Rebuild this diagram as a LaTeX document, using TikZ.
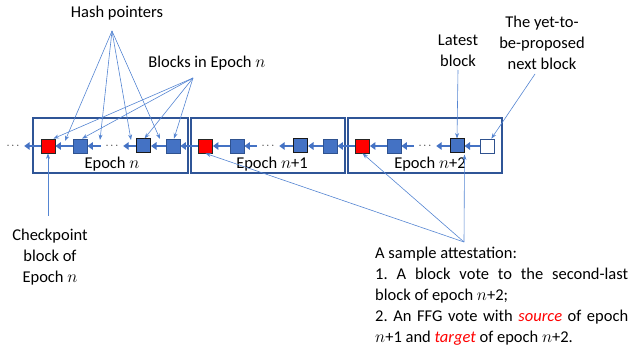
\documentclass[tikz,border=0pt]{standalone}
\usepackage{fontspec}
\setmainfont{Carlito}
\usetikzlibrary{arrows.meta,calc}
\definecolor{chainblue}{HTML}{4472C4}
\definecolor{blkborder}{HTML}{2F528F}
\definecolor{boxblue}{HTML}{2F5597}
\definecolor{annblue}{HTML}{5585D2}
\newcommand{\fs}{\fontsize{16.5}{21}\selectfont}
\frenchspacing
\begin{document}
\begin{tikzpicture}[x=1pt,y=-1pt,
  blk/.style={minimum size=14pt,inner sep=0pt,fill=chainblue,draw=blkborder,line width=0.8pt},
  redblk/.style={blk,fill=red,draw=black!85},
  darkblk/.style={blk,draw=black!90,line width=1pt},
  whiteblk/.style={blk,fill=white,draw=blkborder},
  dotsnode/.style={minimum width=22pt,minimum height=10pt,inner sep=0pt,font=\fontsize{11}{11}\selectfont},
  chainarr/.style={draw=chainblue,line width=2.8pt,-{Triangle[length=5.5pt,width=7.5pt]}},
  epochbox/.style={draw=boxblue,line width=1.2pt},
  ann/.style={draw=annblue,line width=0.6pt,-{Stealth[length=5.5pt,width=4pt]}},
  lbl/.style={font=\fs,align=center,inner sep=0pt}]
\useasboundingbox (0,0) rectangle (629,347);
% epoch boxes
\draw[epochbox] (33,118) rectangle (188,173);
\draw[epochbox] (191,118) rectangle (345,173);
\draw[epochbox] (348,118) rectangle (502,173);
\node[lbl] (ep1) at (112,164) {Epoch $n$};
\node[lbl] (ep2) at (272,164) {Epoch $n$+1};
\node[lbl] (ep3) at (430,164) {Epoch $n$+2};
% blocks
\node[dotsnode] (d0) at (13,146) {$\cdots$};
\node[redblk] (R1) at (48,146) {};
\node[blk] (B1) at (80,146) {};
\node[dotsnode] (d1) at (112,146) {$\cdots$};
\node[darkblk] (K1) at (143.5,146) {};
\node[blk] (B2) at (173,146) {};
\node[redblk] (R2) at (205.5,146) {};
\node[blk] (B3) at (237,146) {};
\node[dotsnode] (d2) at (268,146) {$\cdots$};
\node[darkblk] (K2) at (300.5,146) {};
\node[blk] (B4) at (330,146) {};
\node[redblk] (R3) at (362.5,146) {};
\node[blk] (B5) at (394,146) {};
\node[dotsnode] (d3) at (425,146) {$\cdots$};
\node[darkblk] (K3) at (457,146) {};
\node[whiteblk] (W) at (487,146) {};
% chain arrows
\draw[chainarr] (R1.west) -- (d0.east);
\draw[chainarr] (B1.west) -- (R1.east);
\draw[chainarr] (d1.west) -- (B1.east);
\draw[chainarr] (K1.west) -- (d1.east);
\draw[chainarr] (B2.west) -- (K1.east);
\draw[chainarr] (R2.west) -- (B2.east);
\draw[chainarr] (B3.west) -- (R2.east);
\draw[chainarr] (d2.west) -- (B3.east);
\draw[chainarr] (K2.west) -- (d2.east);
\draw[chainarr] (B4.west) -- (K2.east);
\draw[chainarr] (R3.west) -- (B4.east);
\draw[chainarr] (B5.west) -- (R3.east);
\draw[chainarr] (d3.west) -- (B5.east);
\draw[chainarr] (K3.west) -- (d3.east);
\draw[chainarr] (W.west) -- (K3.east);
% labels
\node[lbl] (hash) at (117,13) {Hash pointers};
\node[lbl] (inep) at (207,63) {Blocks in Epoch $n$};
\node[lbl] (latest) at (458,50.5) {Latest\\block};
\node[lbl] (next) at (542,43) {The yet-to-\\be-proposed\\next block};
\node[lbl] (chk) at (50,257) {Checkpoint\\block of\\Epoch $n$};
\node[font=\fs,align=left,inner sep=0pt,anchor=north west] (att) at (375,246.5)
 {A sample attestation:\\
  \makebox[253pt][s]{1. A block vote to the second-last}\\
  block of epoch $n$+2;\\
  \makebox[253pt][s]{2. An FFG vote with \textcolor{red}{\textit{source}} of epoch}\\
  $n$+1 and \textcolor{red}{\textit{target}} of epoch $n$+2.};
% annotation points
\coordinate (hs) at (112,31);
\coordinate (h1) at (65,141);
\coordinate (h2) at (100,140);
\coordinate (h3) at (131,140);
\coordinate (h4) at (160,139);
\coordinate (bs) at (193,78);
\coordinate (ls) at (458,70);
\coordinate (ns) at (535,74);
\coordinate (cs) at (48,216);
\coordinate (as) at (464,242);
% hash pointer lines
\draw[ann] (hs) -- (h1);
\draw[ann] (hs) -- (h2);
\draw[ann] (hs) -- (h3);
\draw[ann] (hs) -- (h4);
% blocks in epoch lines
\draw[ann] (bs) -- ($(R1.north east)+(-2,0)$);
\draw[ann] (bs) -- ($(B1.north)+(2,0)$);
\draw[ann] (bs) -- ($(K1.north)+(1,0)$);
\draw[ann] (bs) -- ($(B2.north)+(1,0)$);
% other lines
\draw[ann] (ls) -- (K3.north);
\draw[ann] (ns) -- ($(W.north east)+(-3,0)$);
\draw[ann] (cs) -- (R1.south);
\draw[ann] (as) -- (R2.south);
\draw[ann] (as) -- (R3.south);
\draw[ann] (as) -- ($(K3.south east)+(0,1)$);
\end{tikzpicture}
\end{document}
